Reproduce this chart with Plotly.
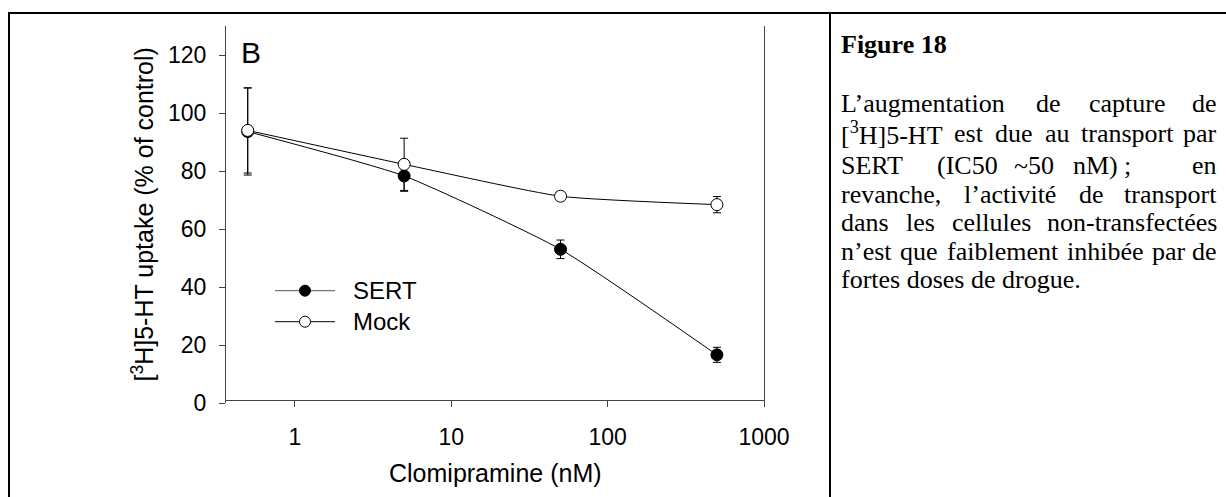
import re
import plotly.graph_objects as go

# Clomipramine concentrations (nM)
conc = [0.5, 5, 50, 500]

# [3H]5-HT uptake, % of control
sert_mean = [93.6, 78.3, 53.0, 16.6]
sert_err = [15.0, 5.3, 3.2, 2.6]
mock_mean = [94.0, 82.3, 71.3, 68.4]
mock_err = [14.7, 9.0, 1.5, 2.8]

x_ticks = [1, 10, 100, 1000]
x_tick_text = ["1", "10", "100", "1000"]
y_ticks = [0, 20, 40, 60, 80, 100, 120]

# page geometry (pixels)
W, H = 1226, 497
L, R, T, B = 226, 764, 26, 403


def px(x):
    return (x - L) / (R - L)


def py(y):
    return (B - y) / (B - T)


SANS = "Liberation Sans, Arial, sans-serif"
SERIF = "Liberation Serif, Times New Roman, serif"
AXIS_COLOR = "#444444"

fig = go.Figure()

fig.add_trace(go.Scatter(
    x=conc, y=sert_mean, mode="lines+markers", name="SERT",
    line=dict(color="black", width=1, shape="spline", smoothing=0.5),
    marker=dict(symbol="circle", size=12, color="black",
                line=dict(color="black", width=1)),
    error_y=dict(type="data", array=sert_err, visible=True,
                 color="black", thickness=1, width=4),
))
fig.add_trace(go.Scatter(
    x=conc, y=mock_mean, mode="lines+markers", name="Mock",
    line=dict(color="black", width=1, shape="spline", smoothing=0.5),
    marker=dict(symbol="circle", size=12, color="white",
                line=dict(color="black", width=1)),
    error_y=dict(type="data", array=mock_err, visible=True,
                 color="black", thickness=1, width=4),
))

fig.update_xaxes(
    type="log", range=[-0.44, 3.0],
    tickvals=x_ticks, ticktext=x_tick_text,
    ticks="outside", ticklen=6, tickwidth=1, tickcolor=AXIS_COLOR,
    showline=True, linecolor=AXIS_COLOR, linewidth=1.2, mirror=True,
    showgrid=False, zeroline=False,
    anchor="free", position=py(400),
    tickfont=dict(family=SANS, size=23, color="black"),
    ticklabelstandoff=10,
)
fig.update_yaxes(
    range=[0, 130], tickvals=y_ticks,
    ticks="outside", ticklen=6, tickwidth=1, tickcolor=AXIS_COLOR,
    showline=True, linecolor=AXIS_COLOR, linewidth=1.2, mirror=True,
    showgrid=False, zeroline=False,
    tickfont=dict(family=SANS, size=23, color="black"),
    ticklabelstandoff=8,
)

annotations = []
shapes = []

# axis titles and panel letter
annotations.append(dict(
    text="[<sup>3</sup>H]5-HT uptake (% of control)", textangle=-90,
    x=px(142), y=py(214.5), xref="paper", yref="paper",
    xanchor="center", yanchor="middle", showarrow=False,
    font=dict(family=SANS, size=25, color="black"),
))
annotations.append(dict(
    text="Clomipramine (nM)",
    x=px(495), y=py(473), xref="paper", yref="paper",
    xanchor="center", yanchor="middle", showarrow=False,
    font=dict(family=SANS, size=25, color="black"),
))
annotations.append(dict(
    text="B", x=px(239), y=py(52), xref="paper", yref="paper",
    xanchor="left", yanchor="middle", showarrow=False,
    font=dict(family=SANS, size=30, color="black"),
))

# legend
legend_rows = [("SERT", 290.7, "black", "#555555"),
               ("Mock", 321.7, "white", "black")]
for label, ly, fill, line_col in legend_rows:
    shapes.append(dict(type="line", xref="paper", yref="paper",
                       x0=px(275), x1=px(335), y0=py(ly), y1=py(ly),
                       line=dict(color=line_col, width=1)))
    shapes.append(dict(type="circle", xref="paper", yref="paper",
                       xsizemode="pixel", ysizemode="pixel",
                       xanchor=px(305), yanchor=py(ly),
                       x0=-5.5, x1=5.5, y0=-5.5, y1=5.5,
                       fillcolor=fill, line=dict(color="black", width=1)))
    annotations.append(dict(
        text=label, x=px(351), y=py(ly), xref="paper", yref="paper",
        xanchor="left", yanchor="middle", showarrow=False,
        font=dict(family=SANS, size=24, color="black"),
    ))

# caption frame
frame = dict(color="black", width=2)
shapes.append(dict(type="line", xref="paper", yref="paper",
                   x0=px(9), x1=px(9), y0=py(12), y1=py(H + 2), line=frame))
shapes.append(dict(type="line", xref="paper", yref="paper",
                   x0=px(8), x1=px(W + 2), y0=py(13), y1=py(13), line=frame))
shapes.append(dict(type="line", xref="paper", yref="paper",
                   x0=px(830), x1=px(830), y0=py(12), y1=py(H + 2), line=frame))

# caption text (Times metrics, em fractions) for justified lines
TIMES = {
    " ": .25, "a": .444, "b": .5, "c": .444, "d": .5, "e": .444, "f": .333,
    "g": .5, "h": .5, "i": .278, "j": .278, "k": .5, "l": .278, "m": .778,
    "n": .5, "o": .5, "p": .5, "q": .5, "r": .333, "s": .389, "t": .278,
    "u": .5, "v": .5, "w": .722, "x": .5, "y": .5, "z": .444, "é": .444,
    "(": .333, ")": .333, "[": .333, "]": .333, "-": .333, "~": .541,
    ";": .278, ",": .25, ".": .25, "\u2019": .333, "\u00a0": .25,
    "C": .667, "E": .611, "F": .556, "H": .722, "I": .333, "L": .611,
    "M": .889, "R": .667, "S": .556, "T": .611,
}
for d in "0123456789":
    TIMES[d] = .5

CAP_SIZE = 26
TXT_L, TXT_R = 840, 1218


def word_width(word, size):
    w, sup = 0.0, False
    for part in re.split(r"(<sup>|</sup>)", word):
        if part == "<sup>":
            sup = True
            continue
        if part == "</sup>":
            sup = False
            continue
        for ch in part:
            w += TIMES.get(ch, .5) * size * (0.7 if sup else 1.0)
    return w


def add_word(text, x, y, anchor="left", bold=False, size=CAP_SIZE):
    annotations.append(dict(
        text=f"<b>{text}</b>" if bold else text,
        x=px(x), y=py(y), xref="paper", yref="paper",
        xanchor=anchor, yanchor="middle", showarrow=False, borderpad=0,
        font=dict(family=SERIF, size=size, color="black"),
    ))


def justified(words, baseline, weights=None):
    n = len(words)
    if weights is None:
        weights = [1.0] * (n - 1)
    widths = [word_width(w, CAP_SIZE) for w in words]
    free = TXT_R - TXT_L - sum(widths)
    unit = free / sum(weights)
    yc = baseline - 0.335 * CAP_SIZE
    x = TXT_L
    for i, w in enumerate(words):
        if i == n - 1:
            add_word(w, TXT_R, yc, anchor="right")
        else:
            add_word(w, x, yc)
            x += widths[i] + weights[i] * unit


add_word("Figure 18", TXT_L, 53 - 0.335 * 26, bold=True, size=26)

caption_lines = [
    ["L\u2019augmentation", "de", "capture", "de"],
    ["[<sup>3</sup>H]5-HT", "est", "due", "au", "transport", "par"],
    ["SERT", "(IC50", "~50", "nM)", ";", "en"],
    ["revanche,", "l\u2019activité", "de", "transport"],
    ["dans", "les", "cellules", "non-transfectées"],
    ["n\u2019est", "que", "faiblement", "inhibée", "par", "de"],
]
caption_gaps = [None, None, [1.8, 0.9, 1.0, 0.35, 3.5], None, None, None]
caption_last = "fortes doses de drogue."
baselines = [112, 142, 174, 203, 231.5, 260, 288.5]

for words, gaps, bl in zip(caption_lines, caption_gaps, baselines):
    justified(words, bl, gaps)
add_word(caption_last, TXT_L, baselines[-1] - 0.335 * CAP_SIZE)

fig.update_layout(
    width=W, height=H,
    margin=dict(l=L, r=W - R, t=T, b=H - B, pad=0),
    paper_bgcolor="white", plot_bgcolor="white",
    showlegend=False,
    annotations=annotations, shapes=shapes,
)

fig.write_html("out.html")
